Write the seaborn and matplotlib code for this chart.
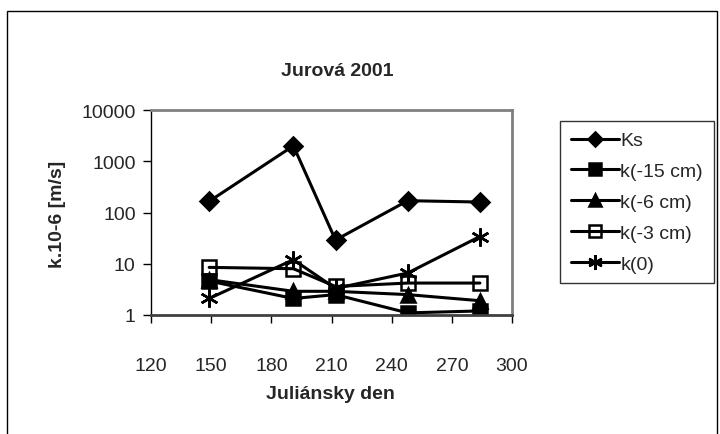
import numpy as np
import pandas as pd
import matplotlib
matplotlib.use("Agg")
import matplotlib.pyplot as plt
from matplotlib.patches import Rectangle
from matplotlib.ticker import FixedLocator, FixedFormatter, NullLocator
import seaborn as sns

# Julian days of the measurements
days = [149, 191, 212, 248, 284]

# hydraulic conductivity k.10-6 [m/s]
ks = [165, 2000, 29, 170, 160]
k_15 = [4.6, 2.1, 2.5, 1.1, 1.2]
k_6 = [4.9, 2.9, 2.9, 2.5, 1.9]
k_3 = [8.5, 8.0, 3.6, 4.2, 4.2]
k_0 = [2.1, 12, 3.3, 6.6, 34]

series_names = ["Ks", "k(-15 cm)", "k(-6 cm)", "k(-3 cm)", "k(0)"]
x_ticks = [120, 150, 180, 210, 240, 270, 300]
y_ticks = [1, 10, 100, 1000, 10000]

df = pd.DataFrame({
    "den": days * 5,
    "k": ks + k_15 + k_6 + k_3 + k_0,
    "serie": np.repeat(series_names, len(days)),
})

sns.set_style("white")
plt.rcParams["font.family"] = ["Liberation Sans", "DejaVu Sans"]
plt.rcParams["font.size"] = 14

fig = plt.figure(figsize=(7.2, 4.35), dpi=100)
ax = fig.add_axes([151 / 720, 1 - 316 / 435, 361 / 720, 205 / 435])

styles = {
    "Ks": dict(marker="D", markersize=9, markerfacecolor="black"),
    "k(-15 cm)": dict(marker="s", markersize=10, markerfacecolor="black"),
    "k(-6 cm)": dict(marker="^", markersize=10, markerfacecolor="black"),
    "k(-3 cm)": dict(marker="s", markersize=10, markerfacecolor="none"),
    "k(0)": dict(marker=(6, 2, 0), markersize=13),
}

for name in series_names:
    sub = df[df["serie"] == name]
    sns.lineplot(data=sub, x="den", y="k", ax=ax, color="black", linewidth=2.2,
                 markeredgecolor="black", markeredgewidth=1.8, label=name,
                 legend=False, **styles[name])

ax.set_yscale("log")
ax.set_xlim(120, 300)
ax.set_ylim(1, 10000)
ax.xaxis.set_major_locator(FixedLocator(x_ticks))
ax.yaxis.set_major_locator(FixedLocator(y_ticks))
ax.yaxis.set_major_formatter(FixedFormatter([str(v) for v in y_ticks]))
ax.yaxis.set_minor_locator(NullLocator())
ax.tick_params(axis="both", direction="out", length=6, width=1, color="black",
               labelsize=14, bottom=True, left=True)
ax.tick_params(axis="x", pad=24)
ax.tick_params(axis="y", pad=5)
ax.set_xlabel("")
ax.set_ylabel("")

for side in ["top", "right"]:
    ax.spines[side].set_color("#808080")
    ax.spines[side].set_linewidth(2)
ax.spines["left"].set_color("black")
ax.spines["left"].set_linewidth(1)
ax.spines["bottom"].set_color("#404040")
ax.spines["bottom"].set_linewidth(2)

fig.text(337 / 720, 1 - 72 / 435, "Jurová 2001", ha="center", va="center",
         fontsize=14, fontweight="bold")
fig.text(330 / 720, 1 - 395 / 435, "Juliánsky den", ha="center", va="center",
         fontsize=14, fontweight="bold")
fig.text(57 / 720, 1 - 214 / 435, "k.10-6 [m/s]", ha="center", va="center",
         rotation=90, fontsize=14, fontweight="bold")

handles, labels = ax.get_legend_handles_labels()
leg = fig.legend(handles, labels, loc="upper left",
                 bbox_to_anchor=(560 / 720, 1 - 122 / 435), borderaxespad=0,
                 frameon=True, fancybox=False, fontsize=14, handlelength=2.5,
                 handletextpad=0.05, labelspacing=0.68, borderpad=0.55)
leg.get_frame().set_edgecolor("black")
leg.get_frame().set_linewidth(1)
for h in leg.legend_handles:
    h.set_markersize(h.get_markersize() * 0.8)

fig.patches.append(Rectangle((7 / 720, -0.05), 710 / 720, 1.05 - 12 / 435,
                             transform=fig.transFigure, fill=False,
                             edgecolor="black", linewidth=1))

fig.savefig("out.png", dpi=100)
